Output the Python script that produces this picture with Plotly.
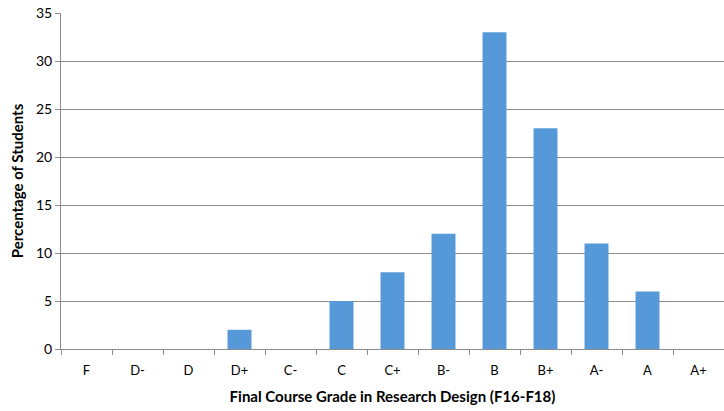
import plotly.graph_objects as go

grades = ["F", "D-", "D", "D+", "C-", "C", "C+", "B-", "B", "B+", "A-", "A", "A+"]
percentages = [0, 0, 0, 2, 0, 5, 8, 12, 33, 23, 11, 6, 0]
y_ticks = [0, 5, 10, 15, 20, 25, 30, 35]

font_family = "Lato, 'Open Sans', sans-serif"

fig = go.Figure(
    go.Bar(
        x=grades,
        y=percentages,
        marker=dict(color="#5699d8", line=dict(width=0)),
    )
)

fig.update_layout(
    width=724,
    height=411,
    margin=dict(l=61, r=0, t=13, b=62),
    paper_bgcolor="white",
    plot_bgcolor="white",
    bargap=0.53,
    showlegend=False,
    font=dict(family=font_family, size=13, color="#000000"),
)

fig.update_xaxes(
    type="category",
    showline=True,
    linecolor="#8c8c8c",
    linewidth=1,
    ticks="outside",
    tickson="boundaries",
    ticklen=5,
    tickcolor="#8c8c8c",
    showgrid=False,
    tickfont=dict(size=13),
    ticklabelstandoff=9,
    title=dict(text="<b>Final Course Grade in Research Design (F16-F18)</b>", font=dict(size=15), standoff=14),
)

fig.update_yaxes(
    range=[0, 35],
    tickvals=y_ticks,
    showline=True,
    linecolor="#8c8c8c",
    linewidth=1,
    ticks="outside",
    ticklen=5,
    tickcolor="#8c8c8c",
    showgrid=True,
    gridcolor="#8c8c8c",
    gridwidth=1,
    zeroline=False,
    tickfont=dict(size=14),
    title=dict(text="<b>Percentage of Students</b>", font=dict(size=15), standoff=8),
)

fig.write_html(
    "out.html",
    config={"displayModeBar": False},
    post_script="document.body.style.margin='0';document.body.style.overflow='hidden';",
)
